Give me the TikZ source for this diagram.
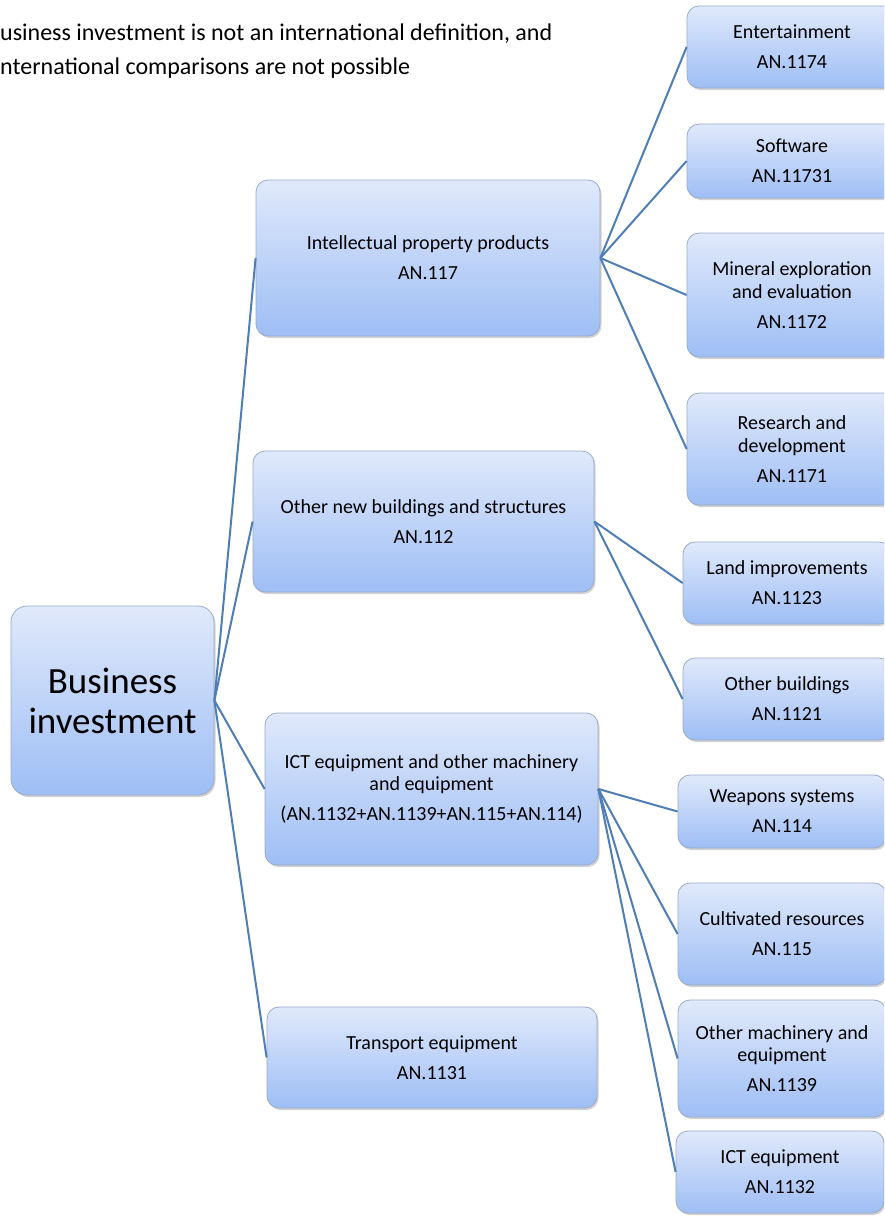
\documentclass[tikz,border=0pt]{standalone}
\usepackage{fontspec}
\setmainfont{Carlito}
\usetikzlibrary{shadows}
\definecolor{lnk}{RGB}{79,126,182}
\definecolor{topc}{RGB}{224,233,251}
\definecolor{botc}{RGB}{158,190,245}
\definecolor{bord}{RGB}{155,172,200}
\tikzset{
  box/.style={rounded corners=12pt, draw=bord, line width=0.8pt,
    top color=topc, bottom color=botc,
    drop shadow={shadow xshift=1.5pt, shadow yshift=-2pt, opacity=0.35},
    align=center, inner sep=0pt, font=\fontsize{20}{22.5}\selectfont, text=black},
  rootbox/.style={box, rounded corners=16pt, font=\fontsize{37}{40}\selectfont},
  link/.style={draw=lnk, line width=2pt},
  note/.style={anchor=base west, inner sep=0pt, font=\fontsize{24}{28}\selectfont, text=black},
}
\begin{document}
\begin{tikzpicture}[x=1pt,y=-1pt]
\clip (0,0) rectangle (884,1216);
\fill[white] (0,0) rectangle (884,1216);

\node[note] (t1) at (0,40) {usiness investment is not an international definition, and};
\node[note] (t2) at (0,74) {nternational comparisons are not possible};

% nodes
\node[rootbox, minimum width=203pt, minimum height=189pt] (root) at (112.5,700.5) {Business\\investment};

\node[box, minimum width=344pt, minimum height=156pt] (ipp) at (428,258) {Intellectual property products\\[7.5pt]AN.117};
\node[box, minimum width=341pt, minimum height=141pt] (onb) at (423.5,521.5) {Other new buildings and structures\\[7.5pt]AN.112};
\node[box, minimum width=333pt, minimum height=152pt] (icto) at (431.5,789) {ICT equipment and other machinery\\and equipment\\[7.5pt](AN.1132+AN.1139+AN.115+AN.114)};
\node[box, minimum width=330pt, minimum height=101pt] (trans) at (432,1057.5) {Transport equipment\\[7.5pt]AN.1131};

\node[box, minimum width=210pt, minimum height=82pt] (ent) at (792,47) {Entertainment\\[7.5pt]AN.1174};
\node[box, minimum width=210pt, minimum height=74pt] (soft) at (792,161) {Software\\[7.5pt]AN.11731};
\node[box, minimum width=210pt, minimum height=124pt] (mine) at (792,295) {Mineral exploration\\and evaluation\\[7.5pt]AN.1172};
\node[box, minimum width=210pt, minimum height=112pt] (rd) at (792,449) {Research and\\development\\[7.5pt]AN.1171};

\node[box, minimum width=208pt, minimum height=82pt] (land) at (787,583) {Land improvements\\[7.5pt]AN.1123};
\node[box, minimum width=208pt, minimum height=82pt] (othb) at (787,699) {Other buildings\\[7.5pt]AN.1121};

\node[box, minimum width=208pt, minimum height=73pt] (weap) at (782,811.5) {Weapons systems\\[7.5pt]AN.114};
\node[box, minimum width=208pt, minimum height=102pt] (cult) at (782,934) {Cultivated resources\\[7.5pt]AN.115};
\node[box, minimum width=208pt, minimum height=117pt] (othm) at (782,1058.5) {Other machinery and\\equipment\\[7.5pt]AN.1139};
\node[box, minimum width=208pt, minimum height=82pt] (ict) at (780,1172) {ICT equipment\\[7.5pt]AN.1132};

% connectors
\foreach \c in {ipp,onb,icto,trans} \draw[link] (root.east) -- (\c.west);
\foreach \c in {ent,soft,mine,rd} \draw[link] (ipp.east) -- (\c.west);
\foreach \c in {land,othb} \draw[link] (onb.east) -- (\c.west);
\foreach \c in {weap,cult,othm,ict} \draw[link] (icto.east) -- (\c.west);
\end{tikzpicture}
\end{document}
